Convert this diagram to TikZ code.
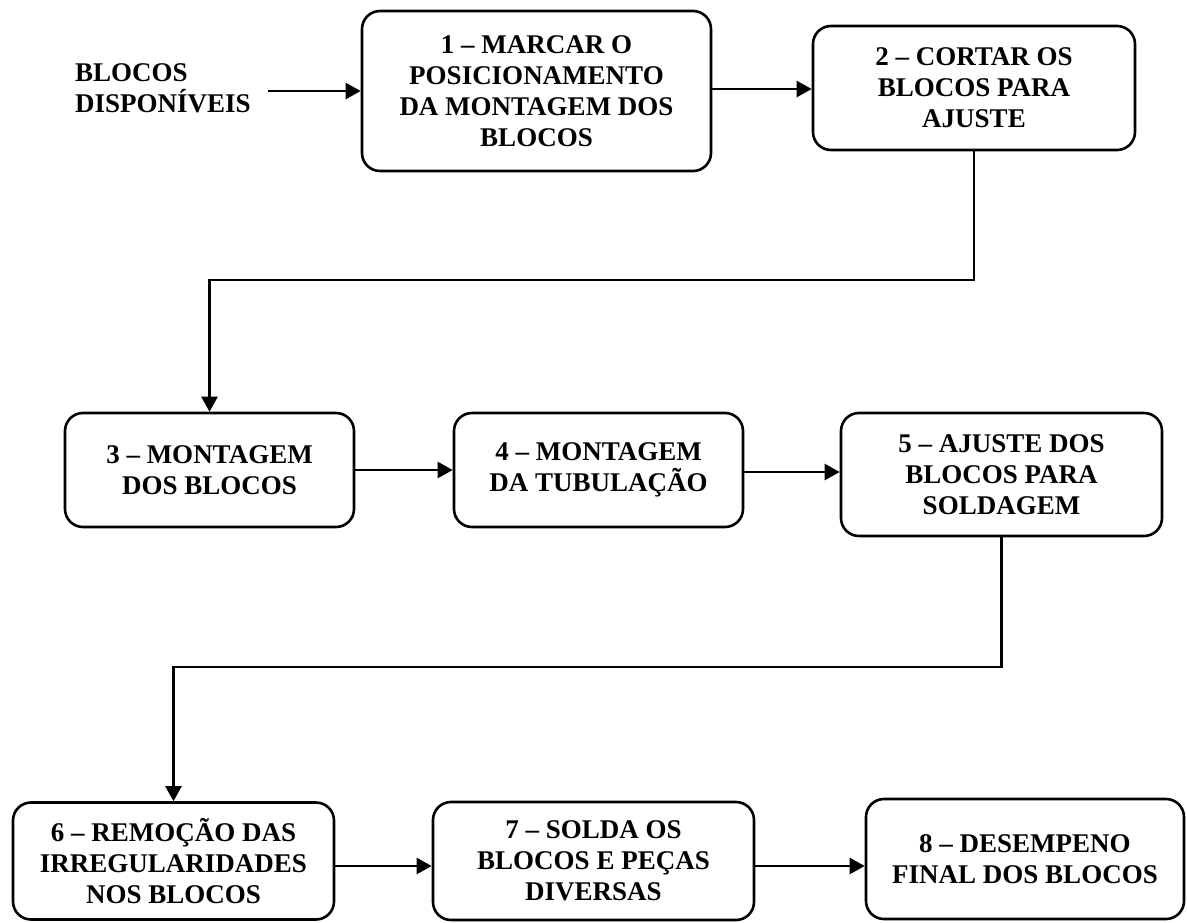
\documentclass[tikz,border=0pt]{standalone}
\usepackage{fontspec}
\setmainfont{Liberation Serif}
\usetikzlibrary{arrows.meta}
\begin{document}
\begin{tikzpicture}[x=1pt,y=-1pt,
  stepbox/.style={draw, line width=2.6pt, rounded corners=18pt, align=center, inner sep=0pt,
    font=\fontsize{27}{31}\selectfont\bfseries},
  lbl/.style={align=left, inner sep=0pt, font=\fontsize{27}{31}\selectfont\bfseries},
  conn/.style={line width=2.4pt, -{Triangle[length=15pt,width=16pt]}}]
\useasboundingbox (0,0) rectangle (1187,922);

\node[lbl, anchor=west] (src) at (75,88) {BLOCOS\\DISPONÍVEIS};

\node[stepbox, minimum width=349pt, minimum height=160pt] (b1) at (536.5,91)
  {1 – MARCAR O\\POSICIONAMENTO\\DA MONTAGEM DOS\\BLOCOS};
\node[stepbox, minimum width=322pt, minimum height=124pt] (b2) at (974,88)
  {2 – CORTAR OS\\BLOCOS PARA\\AJUSTE};
\node[stepbox, minimum width=289pt, minimum height=114pt] (b3) at (209.5,470)
  {3 – MONTAGEM\\DOS BLOCOS};
\node[stepbox, minimum width=289pt, minimum height=114pt] (b4) at (598.5,470)
  {4 – MONTAGEM\\DA TUBULAÇÃO};
\node[stepbox, minimum width=321pt, minimum height=123pt] (b5) at (1001.5,474.5)
  {5 – AJUSTE DOS\\BLOCOS PARA\\SOLDAGEM};
\node[stepbox, minimum width=321pt, minimum height=117pt] (b6) at (173.5,861)
  {6 – REMOÇÃO DAS\\IRREGULARIDADES\\NOS BLOCOS};
\node[stepbox, minimum width=321pt, minimum height=118pt] (b7) at (593.5,861)
  {7 – SOLDA OS\\BLOCOS E PEÇAS\\DIVERSAS};
\node[stepbox, minimum width=318pt, minimum height=120pt] (b8) at (1025,859)
  {8 – DESEMPENO\\FINAL DOS BLOCOS};

\coordinate (k1) at (0,280);
\coordinate (k2) at (0,667);

\draw[conn] ([xshift=17pt]src.east |- b1.west) -- (b1.west);
\draw[conn] ([yshift=2pt]b1.east) -- ([yshift=2pt]b1.east -| b2.west);
\draw[conn] (b2.south) |- (b3.north |- k1) -- (b3.north);
\draw[conn] (b3.east) -- (b4.west);
\draw[conn] ([yshift=-2pt]b4.east) -- ([yshift=-2pt]b4.east -| b5.west);
\draw[conn] (b5.south) |- (b6.north |- k2) -- (b6.north);
\draw[conn] ([yshift=-5pt]b6.east) -- ([yshift=-5pt]b6.east -| b7.west);
\draw[conn] ([yshift=-5pt]b7.east) -- ([yshift=-5pt]b7.east -| b8.west);
\end{tikzpicture}
\end{document}
